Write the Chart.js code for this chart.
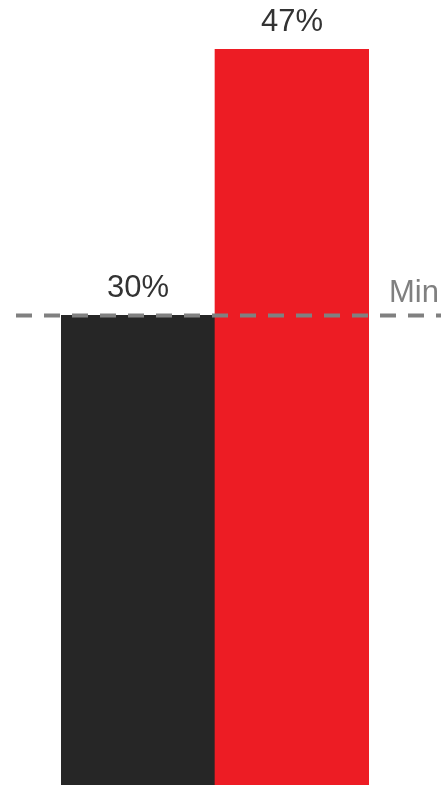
<!DOCTYPE html>
<html>
<head>
<meta charset="utf-8">
<script src="https://cdn.jsdelivr.net/npm/chart.js@4"></script>
<style>
html,body{margin:0;padding:0;background:#fff;overflow:hidden;}
#wrap{width:441px;height:785px;position:relative;}
</style>
</head>
<body>
<div id="wrap"><canvas id="c" width="441" height="785"></canvas></div>
<script>
const categories = ["A", "B"];
const values = [30, 47];
const barColors = ["#262626", "#ED1C24"];
const valueLabels = ["30%", "47%"];
const minValue = 30;
const minLabel = "Min";

const overlay = {
  id: 'overlay',
  afterDatasetsDraw(chart) {
    const ctx = chart.ctx;
    const y = chart.scales.y.getPixelForValue(minValue);
    ctx.save();
    ctx.strokeStyle = '#808080';
    ctx.lineWidth = 4;
    ctx.setLineDash([16, 12]);
    ctx.beginPath();
    ctx.moveTo(16, y);
    ctx.lineTo(chart.width, y);
    ctx.stroke();
    ctx.setLineDash([]);
    ctx.font = '31px "Liberation Sans", Arial, sans-serif';
    ctx.fillStyle = '#808080';
    ctx.textAlign = 'left';
    ctx.textBaseline = 'alphabetic';
    ctx.fillText(minLabel, 389, y - 13);
    const meta = chart.getDatasetMeta(0);
    ctx.fillStyle = '#333333';
    ctx.textAlign = 'center';
    meta.data.forEach((bar, i) => {
      ctx.fillText(valueLabels[i], bar.x, bar.y - 18);
    });
    ctx.restore();
  }
};

new Chart(document.getElementById('c'), {
  type: 'bar',
  data: {
    labels: categories,
    datasets: [{
      data: values,
      backgroundColor: barColors,
      borderWidth: 0,
      barPercentage: 1,
      categoryPercentage: 1
    }]
  },
  options: {
    responsive: false,
    animation: false,
    layout: { padding: { left: 61, right: 72, top: 0, bottom: 0 } },
    plugins: { legend: { display: false }, tooltip: { enabled: false } },
    scales: {
      x: { display: false },
      y: { display: false, min: 0, max: 50.15 }
    }
  },
  plugins: [overlay]
});
</script>
</body>
</html>
